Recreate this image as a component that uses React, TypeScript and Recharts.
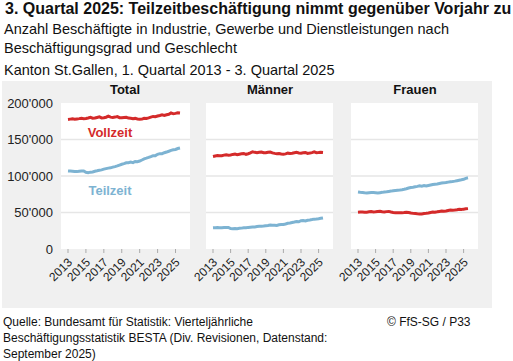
import React from 'react';
import { LineChart, Line, XAxis, YAxis, CartesianGrid } from 'recharts';

// quarterly values in persons, 1. Quartal 2013 - 3. Quartal 2025
const years = [2013, 2014, 2015, 2016, 2017, 2018, 2019, 2020, 2021, 2022, 2023, 2024, 2025];
const quarters = years.flatMap((y) => ['Q1', 'Q2', 'Q3', 'Q4'].map((q) => `${y} ${q}`)).slice(0, 51);

const totalVollzeit = [
  177500, 177900, 178300, 177800, 178200, 178600, 179100, 178400, 178900, 179500, 180300, 179100,
  179400, 180200, 181000, 179600, 179800, 180500, 181900, 180600, 180100, 180700, 181400, 179900,
  179800, 180200, 180500, 179300, 179000, 178400, 178900, 178100, 177600, 177900, 179000, 178700,
  179600, 180600, 181600, 181200, 182100, 182900, 183800, 183000, 183900, 184600, 186400, 185200,
  185800, 186600, 186300,
];
const totalTeilzeit = [
  107000, 106800, 106600, 106100, 106000, 106600, 107000, 106900, 105100, 104600, 105300, 105500,
  106500, 107100, 107900, 108400, 109400, 110100, 110800, 111200, 112100, 112900, 113900, 115000,
  116100, 116900, 118100, 118200, 119000, 118300, 119900, 119600, 120500, 121900, 123500, 124400,
  125400, 126600, 127900, 127900, 129700, 130600, 130600, 131900, 132800, 133900, 135100, 135900,
  136400, 137600, 138300,
];
const maennerVollzeit = [
  126800, 127500, 127900, 127600, 127800, 128600, 129000, 128500, 128900, 129600, 130000, 129200,
  129800, 130400, 130900, 129700, 130500, 131600, 133200, 132400, 131900, 132500, 132800, 131800,
  131900, 132600, 132900, 131700, 131000, 130600, 130900, 130200, 129900, 130300, 131300, 130800,
  131100, 131800, 132400, 131600, 131300, 131900, 132300, 131000, 131400, 132000, 133000, 131900,
  132100, 132600, 132300,
];
const maennerTeilzeit = [
  29000, 29200, 29300, 29100, 29200, 29400, 29500, 29600, 28000, 27800, 28100, 27900,
  28300, 28600, 29000, 29100, 29600, 29900, 30200, 30300, 30800, 31100, 31300, 31500,
  31900, 32200, 32800, 32400, 32500, 32200, 33100, 33400, 33600, 34300, 35200, 35600,
  36300, 36900, 37600, 37300, 38700, 39000, 38500, 39400, 39800, 40300, 40900, 41100,
  41500, 42100, 42600,
];
const frauenVollzeit = [
  50300, 50600, 50800, 50500, 50500, 50900, 51200, 50800, 50900, 51300, 51600, 51000,
  50800, 51200, 51500, 50700, 50100, 49600, 49800, 49500, 49500, 49900, 50400, 49900,
  49200, 48800, 48600, 48300, 48100, 48000, 48500, 48900, 49400, 50100, 50700, 50500,
  50900, 51500, 52000, 51600, 52100, 52800, 53500, 53200, 53400, 53900, 54500, 54100,
  54600, 55000, 55300,
];
const frauenTeilzeit = [
  78000, 77600, 77300, 77000, 76800, 77200, 77500, 77300, 77100, 76800, 77200, 77600,
  78200, 78500, 78900, 79300, 79800, 80200, 80600, 80900, 81300, 81800, 82600, 83500,
  84200, 84700, 85300, 85800, 86500, 86100, 86800, 86200, 86900, 87600, 88300, 88800,
  89100, 89700, 90300, 90600, 91000, 91600, 92100, 92500, 93000, 93600, 94200, 94800,
  95500, 96800, 97500,
];
const yTicks = [0, 50000, 100000, 150000, 200000];

const panels = [
  { title: 'Total', voll: totalVollzeit, teil: totalTeilzeit },
  { title: 'Männer', voll: maennerVollzeit, teil: maennerTeilzeit },
  { title: 'Frauen', voll: frauenVollzeit, teil: frauenTeilzeit },
];

const RED = '#d42a2a';
const BLUE = '#7db3d2';
const FONT = '"Liberation Sans", Arial, sans-serif';

const fmt = (v: number) => String(v).replace(/\B(?=(\d{3})+(?!\d))/g, "'");

const YearTick = (props: any) => {
  const { x, y, payload } = props;
  return (
    <g transform={`translate(${x + 5},${y + 8})`}>
      <text x={0} y={0} textAnchor="end" transform="rotate(-45)" fontSize={12} fill="#222" fontFamily={FONT}>
        {String(payload.value).slice(0, 4)}
      </text>
    </g>
  );
};

const Panel = ({ idx }: { idx: number }) => {
  const p = panels[idx];
  const rows = quarters.map((q, i) => ({ q, voll: p.voll[i], teil: p.teil[i] }));
  const first = idx === 0;
  const left = first ? 0 : idx === 1 ? 195 : 340;
  const width = first ? 195 : 143;
  return (
    <div style={{ position: 'absolute', left, top: 82 }}>
      <LineChart
        width={width}
        height={210}
        data={rows}
        margin={{ top: 21, right: 5, bottom: 0, left: first ? 0 : 11 }}
      >
        <CartesianGrid
          fill="#fff"
          vertical={false}
          stroke="#e6e6e6"
          strokeWidth={1.5}
          horizontalValues={[50000, 100000, 150000]}
        />
        <XAxis
          dataKey="q"
          interval={7}
          height={43}
          padding={{ left: 7, right: 10 }}
          axisLine={false}
          tickLine={{ stroke: '#aaa' }}
          tickSize={4}
          tickMargin={2}
          tick={<YearTick />}
        />
        <YAxis
          hide={!first}
          width={61}
          domain={[0, 200000]}
          ticks={yTicks}
          axisLine={false}
          tickLine={false}
          tickFormatter={fmt}
          tick={{ fontSize: 13, fill: '#222', fontFamily: FONT }}
        />
        <Line type="linear" dataKey="voll" stroke={RED} strokeWidth={3} dot={false} isAnimationActive={false} />
        <Line type="linear" dataKey="teil" stroke={BLUE} strokeWidth={3} dot={false} isAnimationActive={false} />
      </LineChart>
    </div>
  );
};

const abs = (s: React.CSSProperties): React.CSSProperties => ({ position: 'absolute', whiteSpace: 'nowrap', ...s });

export default function App() {
  return (
    <div style={{ position: 'absolute', left: 0, top: 0, width: 513, height: 361, background: '#fff', fontFamily: FONT, color: '#111' }}>
      <style>{'.recharts-surface, .recharts-wrapper { overflow: visible !important; }'}</style>
      <div style={abs({ left: 5, top: 0, fontSize: 16, fontWeight: 'bold', lineHeight: '18px' })}>
        3. Quartal 2025: Teilzeitbeschäftigung nimmt gegenüber Vorjahr zu
      </div>
      <div style={abs({ left: 4, top: 20, fontSize: 14.5, lineHeight: '19px' })}>
        Anzahl Beschäftigte in Industrie, Gewerbe und Dienstleistungen nach
        <br />
        Beschäftigungsgrad und Geschlecht
      </div>
      <div style={abs({ left: 4, top: 61, fontSize: 14.5, lineHeight: '19px' })}>
        Kanton St.Gallen, 1. Quartal 2013 - 3. Quartal 2025
      </div>
      <div style={abs({ left: 2, top: 81, width: 490, height: 227, background: '#f0f0f0' })} />
      <Panel idx={0} />
      <Panel idx={1} />
      <Panel idx={2} />
      <div style={abs({ left: 75, width: 100, top: 82, textAlign: 'center', fontSize: 13, fontWeight: 'bold', lineHeight: '15px' })}>Total</div>
      <div style={abs({ left: 220, width: 100, top: 82, textAlign: 'center', fontSize: 13, fontWeight: 'bold', lineHeight: '15px' })}>Männer</div>
      <div style={abs({ left: 365, width: 100, top: 82, textAlign: 'center', fontSize: 13, fontWeight: 'bold', lineHeight: '15px' })}>Frauen</div>
      <div style={abs({ left: 60, width: 100, top: 125, textAlign: 'center', fontSize: 13, fontWeight: 'bold', lineHeight: '15px', color: RED })}>Vollzeit</div>
      <div style={abs({ left: 60, width: 100, top: 183, textAlign: 'center', fontSize: 13, fontWeight: 'bold', lineHeight: '15px', color: BLUE })}>Teilzeit</div>
      <div style={abs({ left: 3, top: 314, fontSize: 12, lineHeight: '16px', color: '#111' })}>
        Quelle: Bundesamt für Statistik: Vierteljährliche
        <br />
        Beschäftigungsstatistik BESTA (Div. Revisionen, Datenstand:
        <br />
        September 2025)
      </div>
      <div style={abs({ left: 387, top: 314, fontSize: 12, lineHeight: '16px', color: '#111' })}>© FfS-SG / P33</div>
    </div>
  );
}
